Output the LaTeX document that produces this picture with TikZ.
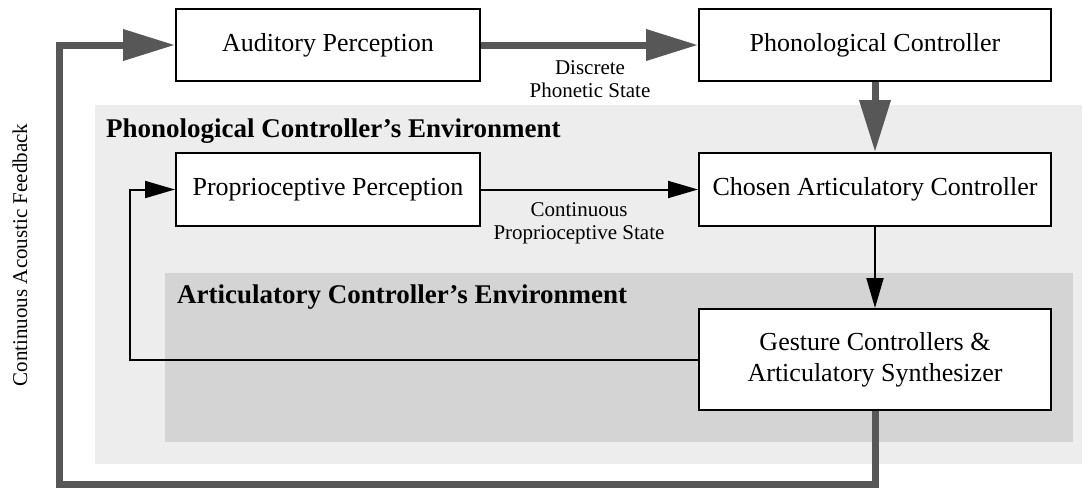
\documentclass[tikz,border=0pt]{standalone}
\usepackage{fontspec}
\setmainfont{Liberation Serif}
\usetikzlibrary{arrows.meta}

\definecolor{outerenv}{gray}{0.93}
\definecolor{innerenv}{gray}{0.83}
\definecolor{feedgray}{gray}{0.34}

\tikzset{
  block/.style={draw, line width=2pt, fill=white, inner sep=0pt, align=center,
    font=\fontsize{26}{31}\selectfont},
  leftblock/.style={block, minimum width=304pt, minimum height=72pt},
  rightblock/.style={block, minimum width=352pt, minimum height=72pt},
  edgelabel/.style={inner sep=0pt, align=center, font=\fontsize{21}{23}\selectfont},
  envlabel/.style={inner sep=0pt, anchor=base west, font=\fontsize{27}{31}\selectfont\bfseries},
  thinflow/.style={line width=2pt, line join=miter, -{Triangle[length=30pt,width=17pt]}},
  thickflow/.style={line width=7pt, color=feedgray, line join=miter,
    -{Triangle[length=52pt,width=30pt]}}
}

\begin{document}
\begin{tikzpicture}[x=1pt,y=-1pt]
  \useasboundingbox (0,0) rectangle (1083,491);

  % nested environments
  \fill[outerenv] (95,105) rectangle (1082,464);
  \fill[innerenv] (165,273) rectangle (1073,442);
  \node[envlabel] (phonenv) at (106,137) {Phonological Controller's Environment};
  \node[envlabel] (artenv) at (177,303) {Articulatory Controller's Environment};

  % processing blocks
  \node[leftblock] (aud) at (328,45) {Auditory Perception};
  \node[rightblock] (phon) at (875,45) {Phonological Controller};
  \node[leftblock, minimum height=73pt] (prop) at (328,189.5) {Proprioceptive Perception};
  \node[rightblock, minimum height=73pt] (chosen) at (875,189.5) {Chosen Articulatory Controller};
  \node[rightblock, minimum height=101pt] (gest) at (875,359.5)
    {Gesture Controllers \&\\Articulatory Synthesizer};

  % feed-forward connections
  \draw[thickflow] (aud) -- (phon);
  \draw[thickflow] (phon) -- (chosen);
  \draw[thinflow] (prop) -- (chosen);
  \draw[thinflow] (chosen) -- (gest);

  % proprioceptive loop
  \coordinate (propturn) at (130,359.5);
  \draw[thinflow] (gest.west) -- (propturn) |- (prop.west);

  % acoustic feedback loop
  \coordinate (fbright) at (875,484);
  \coordinate (fbleft) at (59,484);
  \draw[thickflow] (gest.south) -- (fbright) -- (fbleft) |- (aud.west);

  % connection labels
  \node[edgelabel] (discrete) at (590,79) {Discrete\\Phonetic State};
  \node[edgelabel] (contprop) at (579,223) {Continuous\\Proprioceptive State};
  \node[edgelabel, rotate=90] (acoustic) at (20,255) {Continuous Acoustic Feedback};
\end{tikzpicture}
\end{document}
